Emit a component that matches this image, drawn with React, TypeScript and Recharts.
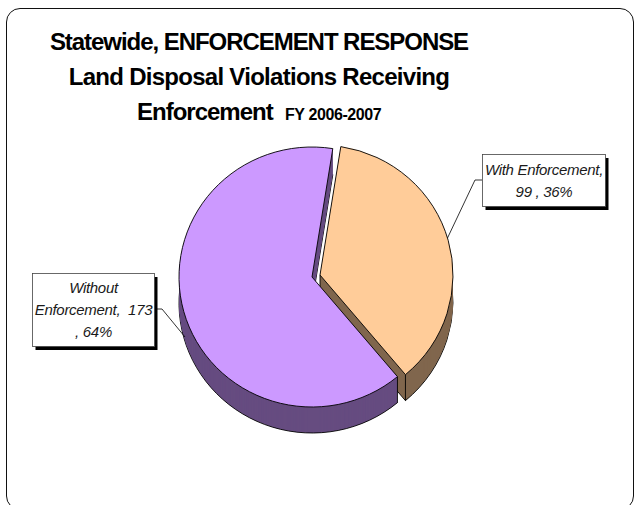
import React from 'react';
import { PieChart, Pie } from 'recharts';

const categories = ['With Enforcement', 'Without Enforcement'];
const counts = [99, 173];
const titleLines = ['Statewide, ENFORCEMENT RESPONSE', 'Land Disposal Violations Receiving', 'Enforcement'];
const titleSuffix = 'FY 2006-2007';
const calloutLines = [
  ['With Enforcement,', '99 , 36%'],
  ['Without', 'Enforcement,  173', ', 64%'],
];

const pieData = categories.map((name, i) => ({ name, value: counts[i] }));

const FONT = '"Liberation Sans", Arial, sans-serif';
const DEPTH = 26;
const X_STRETCH = 133 / 130;
const faces: Record<string, string> = { 'With Enforcement': '#FFCC99', 'Without Enforcement': '#CC99FF' };
const walls: Record<string, string> = { 'With Enforcement': '#80664D', 'Without Enforcement': '#664C80' };

const calloutBoxes: Record<string, any> = {
  'With Enforcement': { x: 482.5, y: 154.5, w: 123, h: 52, leader: '482,180 475,180 447.5,238', firstY: 175, step: 22 },
  'Without Enforcement': { x: 32.5, y: 273.5, w: 122, h: 73, leader: '155,309 162,309 185,337', firstY: 293, step: 22 },
};

function wedgePath(cx: number, cy: number, r: number, start: number, end: number) {
  const rx = r * X_STRETCH;
  const pt = (a: number) => {
    const t = (a * Math.PI) / 180;
    return [cx + rx * Math.cos(t), cy - r * Math.sin(t)];
  };
  const [x0, y0] = pt(start);
  const [x1, y1] = pt(end);
  const large = Math.abs(start - end) > 180 ? 1 : 0;
  return `M${cx},${cy}L${x0},${y0}A${rx},${r} 0 ${large} 1 ${x1},${y1}Z`;
}

function sliceShape(only: string) {
  return (props: any) => {
    const { cx, cy, outerRadius, startAngle, endAngle, name } = props;
    if (name !== only) return <g />;
    const layers = [];
    for (let d = DEPTH; d >= 1; d--) {
      layers.push(
        <path
          key={d}
          d={wedgePath(cx, cy + d, outerRadius, startAngle, endAngle)}
          fill={walls[only]}
          stroke={d === DEPTH ? '#000' : 'none'}
          strokeWidth={0.9}
        />
      );
    }
    const t = (endAngle * Math.PI) / 180;
    const t0 = (startAngle * Math.PI) / 180;
    const ex = only === categories[0]
      ? cx + outerRadius * X_STRETCH * Math.cos(t)
      : cx + outerRadius * X_STRETCH * Math.cos(t0);
    const ey = only === categories[0]
      ? cy - outerRadius * Math.sin(t)
      : cy - outerRadius * Math.sin(t0);
    return (
      <g>
        {layers}
        <line x1={ex} y1={ey} x2={ex} y2={ey + DEPTH} stroke="#000" strokeWidth={0.9} />
        {only === categories[0] && (
          <line x1={cx} y1={cy} x2={cx} y2={cy + DEPTH} stroke="#000" strokeWidth={0.9} />
        )}
        <path d={wedgePath(cx, cy, outerRadius, startAngle, endAngle)} fill={faces[only]} stroke="#000" strokeWidth={0.9} />
      </g>
    );
  };
}

function renderCallout(props: any) {
  const i = props.index;
  const box = calloutBoxes[categories[i]];
  return (
    <g key={categories[i]}>
      <polyline points={box.leader} fill="none" stroke="#000" strokeWidth={0.8} />
      <rect x={box.x + 3} y={box.y + 3.5} width={box.w} height={box.h} fill="#000" />
      <rect x={box.x} y={box.y} width={box.w} height={box.h} fill="#fff" stroke="#444" strokeWidth={0.8} />
      {calloutLines[i].map((line, k) => (
        <text
          key={k}
          x={box.x + box.w / 2}
          y={box.firstY + k * box.step}
          textAnchor="middle"
          fontFamily={FONT}
          fontStyle="italic"
          fontSize={15}
          letterSpacing={-0.3}
          fill="#1a1a1a"
          style={{ whiteSpace: 'pre' }}
        >
          {line}
        </text>
      ))}
    </g>
  );
}

const titleStyle: React.CSSProperties = {
  position: 'absolute',
  left: 0,
  width: 518,
  textAlign: 'center',
  fontFamily: FONT,
  fontWeight: 700,
  fontSize: 24,
  letterSpacing: -1,
  lineHeight: '24px',
  color: '#000',
  whiteSpace: 'pre',
};

export default function App() {
  return (
    <div style={{ position: 'fixed', left: 0, top: 0, width: 634, height: 505, overflow: 'hidden', background: '#fff' }}>
      <div
        style={{
          position: 'absolute',
          left: 6,
          top: 8,
          width: 626,
          height: 500,
          border: '1.3px solid #111',
          borderRadius: 14,
          boxSizing: 'content-box',
        }}
      />
      <div style={{ ...titleStyle, top: 30, letterSpacing: -1.05 }}>{titleLines[0]}</div>
      <div style={{ ...titleStyle, top: 65, letterSpacing: -0.72 }}>{titleLines[1]}</div>
      <div style={{ ...titleStyle, top: 100, left: 137, width: 'auto', textAlign: 'left' }}>{titleLines[2]}</div>
      <div style={{ ...titleStyle, top: 103, left: 285, width: 'auto', textAlign: 'left', fontSize: 16, letterSpacing: -0.4 }}>{titleSuffix}</div>
      <div style={{ position: 'absolute', left: 0, top: 0 }}>
        <PieChart width={634} height={505} margin={{ top: 0, right: 0, bottom: 0, left: 0 }}>
          <Pie
            data={pieData}
            dataKey="value"
            nameKey="name"
            cx={320}
            cy={275}
            outerRadius={130}
            startAngle={81}
            endAngle={-279}
            isAnimationActive={false}
            shape={sliceShape(categories[0])}
            legendType="none"
            rootTabIndex={-1}
          />
          <Pie
            data={pieData}
            dataKey="value"
            nameKey="name"
            cx={312}
            cy={277}
            outerRadius={130}
            startAngle={81}
            endAngle={-279}
            isAnimationActive={false}
            shape={sliceShape(categories[1])}
            label={renderCallout}
            labelLine={false}
            legendType="none"
            rootTabIndex={-1}
          />
        </PieChart>
      </div>
    </div>
  );
}
